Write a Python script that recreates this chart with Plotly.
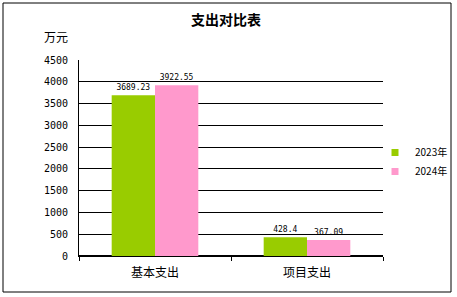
import plotly.graph_objects as go

categories = ["基本支出", "项目支出"]
series_names = ["2023年", "2024年"]
values_2023 = [3689.23, 428.4]
values_2024 = [3922.55, 367.09]
labels_2023 = ["3689.23", "428.4"]
labels_2024 = ["3922.55", "367.09"]
colors = ["#99CC00", "#FF99CC"]

W, H = 457, 297
L, R, T, B = 79, 383, 60, 256
pw, ph = R - L, B - T

def px_x(x):
    return (x - L) / pw

def px_y(y):
    return (B - y) / ph

fig = go.Figure()
for name, vals, labs, col in [
    (series_names[0], values_2023, labels_2023, colors[0]),
    (series_names[1], values_2024, labels_2024, colors[1]),
]:
    fig.add_trace(go.Bar(
        x=categories, y=vals, name=name, marker=dict(color=col, line=dict(width=0)),
        text=labs, textposition="outside", cliponaxis=False, showlegend=False,
        textfont=dict(family="DejaVu Sans Mono", size=8, color="black"),
    ))
# legend entries with small square swatches
for name, col in zip(series_names, colors):
    fig.add_trace(go.Scatter(
        x=[None], y=[None], mode="markers", name=name,
        marker=dict(symbol="square", size=7, color=col),
    ))

font_cjk = "Noto Sans CJK SC"
fig.update_layout(
    width=W, height=H,
    margin=dict(l=L, r=W - R, t=T, b=H - B, pad=0, autoexpand=False),
    paper_bgcolor="white", plot_bgcolor="white",
    barmode="group", bargap=0.43, bargroupgap=0,
    font=dict(family=font_cjk, size=11, color="black"),
    showlegend=True,
    legend=dict(x=px_x(375), y=px_y(138), xanchor="left", yanchor="top",
                font=dict(family=font_cjk, size=10, color="black"),
                itemwidth=30, tracegroupgap=0, bgcolor="rgba(0,0,0,0)"),
    xaxis=dict(showgrid=False, showline=True, linecolor="black", linewidth=1,
               ticks="outside", tickson="boundaries", ticklen=4, tickcolor="black",
               tickfont=dict(family=font_cjk, size=12), ticklabelstandoff=6,
               fixedrange=True),
    yaxis=dict(range=[0, 4500], dtick=500, showgrid=True, gridcolor="black", gridwidth=1,
               showline=True, linecolor="black", linewidth=1, ticks="",
               zeroline=True, zerolinecolor="black",
               tickfont=dict(family="DejaVu Sans Mono", size=10), ticklabelstandoff=8,
               fixedrange=True),
    shapes=[dict(type="rect", xref="paper", yref="paper",
                 x0=px_x(3), x1=px_x(451), y0=px_y(292), y1=px_y(3),
                 line=dict(color="black", width=1), fillcolor="rgba(0,0,0,0)", layer="below")],
    annotations=[
        dict(text="<b>支出对比表</b>", xref="paper", yref="paper", x=px_x(226), y=px_y(19),
             showarrow=False, xanchor="center", yanchor="middle",
             font=dict(family=font_cjk, size=14, color="black")),
        dict(text="万元", xref="paper", yref="paper", x=px_x(56), y=px_y(36),
             showarrow=False, xanchor="center", yanchor="middle",
             font=dict(family=font_cjk, size=12, color="black")),
    ],
)
fig.write_html("out.html")
